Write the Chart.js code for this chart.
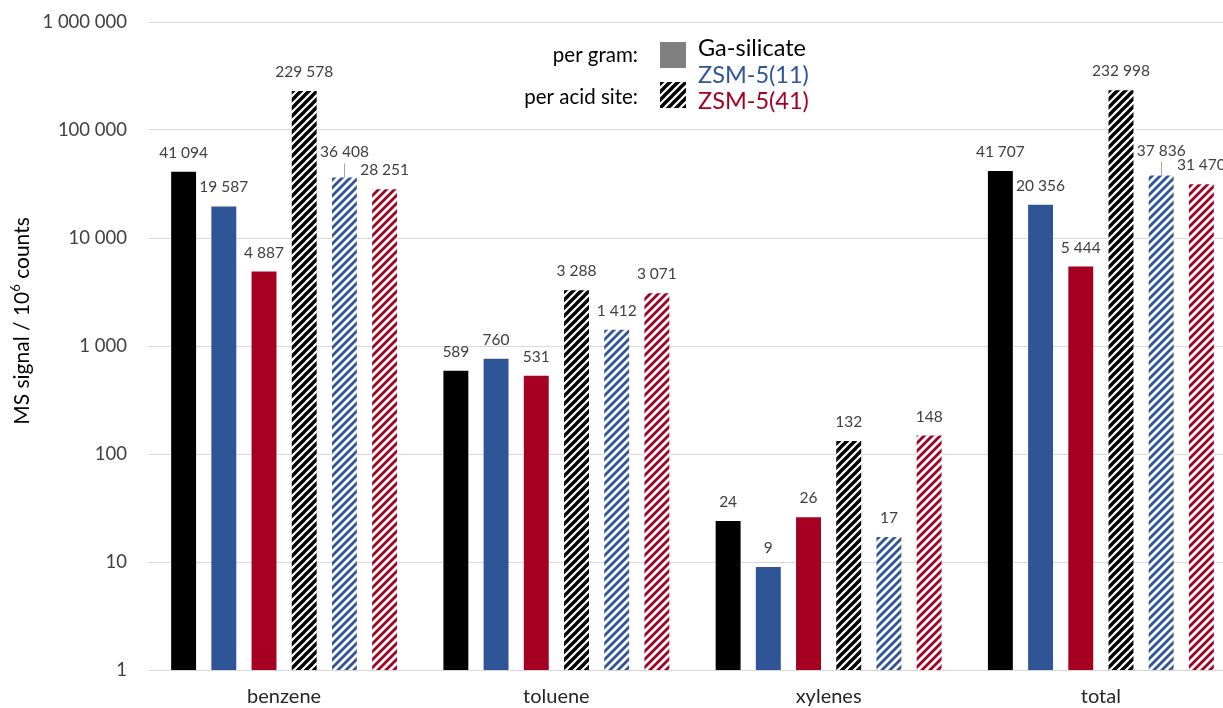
<!DOCTYPE html>
<html>
<head>
<meta charset="utf-8">
<title>Aromatics MS signal</title>
<script src="https://cdn.jsdelivr.net/npm/chart.js@4/dist/chart.umd.min.js"></script>
<style>
  html, body { margin: 0; padding: 0; background: #fff; overflow: hidden; }
  #wrap { width: 1240px; height: 708px; position: relative; }
</style>
</head>
<body>
<div id="wrap"><canvas id="chart"></canvas></div>
<script>
// Products and MS signal values (10^6 counts)
const categories = ['benzene', 'toluene', 'xylenes', 'total'];
const gaPerGram    = [41094, 589, 24, 41707];
const zsm11PerGram = [19587, 760, 9, 20356];
const zsm41PerGram = [4887, 531, 26, 5444];
const gaPerSite    = [229578, 3288, 132, 232998];
const zsm11PerSite = [36408, 1412, 17, 37836];
const zsm41PerSite = [28251, 3071, 148, 31470];
const yTicks = [1, 10, 100, 1000, 10000, 100000, 1000000];

const BLACK = '#000000';
const BLUE = '#2F5597';
const RED = '#A50021';
const TEXT = '#404040';
const FONT = 'Lato, "Open Sans", sans-serif';

function fmt(v) {
  return String(v).replace(/\B(?=(\d{3})+(?!\d))/g, ' ');
}

// diagonal "/" stripes
function hatch(color, width) {
  const size = 8;
  const c = document.createElement('canvas');
  c.width = size; c.height = size;
  const g = c.getContext('2d');
  g.fillStyle = '#fff';
  g.fillRect(0, 0, size, size);
  g.strokeStyle = color;
  g.lineWidth = width;
  g.lineCap = 'square';
  for (let k = -size; k <= size * 2; k += size) {
    g.beginPath();
    g.moveTo(k - size, size);
    g.lineTo(k, 0);
    g.stroke();
  }
  return g.createPattern(c, 'repeat');
}

const datasets = [
  { label: 'Ga-silicate per gram', data: gaPerGram, backgroundColor: BLACK },
  { label: 'ZSM-5(11) per gram', data: zsm11PerGram, backgroundColor: BLUE },
  { label: 'ZSM-5(41) per gram', data: zsm41PerGram, backgroundColor: RED },
  { label: 'Ga-silicate per acid site', data: gaPerSite, backgroundColor: hatch(BLACK, 3.4) },
  { label: 'ZSM-5(11) per acid site', data: zsm11PerSite, backgroundColor: hatch(BLUE, 2.8), leader: [0, 3] },
  { label: 'ZSM-5(41) per acid site', data: zsm41PerSite, backgroundColor: hatch(RED, 2.8) }
];

// value labels above each bar
const valueLabels = {
  id: 'valueLabels',
  afterDatasetsDraw(chart) {
    const ctx = chart.ctx;
    ctx.save();
    ctx.font = '15.5px ' + FONT;
    ctx.fillStyle = TEXT;
    ctx.textAlign = 'center';
    ctx.textBaseline = 'middle';
    chart.data.datasets.forEach((ds, di) => {
      const meta = chart.getDatasetMeta(di);
      meta.data.forEach((bar, i) => {
        const lifted = ds.leader && ds.leader.includes(i);
        const y = bar.y - 19 - (lifted ? 6 : 0);
        ctx.fillText(fmt(ds.data[i]), bar.x, y);
        if (lifted) {
          ctx.strokeStyle = '#A6A6A6';
          ctx.lineWidth = 1;
          ctx.beginPath();
          ctx.moveTo(Math.round(bar.x) + 0.5, y + 11);
          ctx.lineTo(Math.round(bar.x) + 0.5, bar.y);
          ctx.stroke();
        }
      });
    });
    ctx.restore();
  }
};

// axis title and the two-row legend
const decorations = {
  id: 'decorations',
  afterDraw(chart) {
    const ctx = chart.ctx;
    ctx.save();

    // y axis title with superscript exponent
    ctx.translate(22, 321);
    ctx.rotate(-Math.PI / 2);
    ctx.fillStyle = '#000';
    ctx.textBaseline = 'middle';
    const big = '21px ' + FONT;
    const small = '13px ' + FONT;
    const parts = [['MS signal / 10', big, 0], ['6', small, -6], [' counts', big, 0]];
    let total = 0;
    parts.forEach(p => { ctx.font = p[1]; total += ctx.measureText(p[0]).width; });
    let x = -total / 2;
    ctx.textAlign = 'left';
    parts.forEach(p => {
      ctx.font = p[1];
      ctx.fillText(p[0], x, p[2]);
      x += ctx.measureText(p[0]).width;
    });
    ctx.setTransform(1, 0, 0, 1, 0, 0);

    // legend
    ctx.font = '20.5px ' + FONT;
    ctx.fillStyle = '#000';
    ctx.textAlign = 'right';
    ctx.textBaseline = 'middle';
    ctx.fillText('per gram:', 638, 55);
    ctx.fillText('per acid site:', 638, 97);
    ctx.fillStyle = '#808080';
    ctx.fillRect(660, 42, 26, 26);
    ctx.fillStyle = hatch(BLACK, 3.4);
    ctx.fillRect(660, 82, 26, 26);
    ctx.textAlign = 'left';
    ctx.font = '23.5px ' + FONT;
    ctx.fillStyle = '#000';
    ctx.fillText('Ga-silicate', 698, 48);
    ctx.fillStyle = BLUE;
    ctx.fillText('ZSM-5(11)', 698, 75);
    ctx.fillStyle = RED;
    ctx.fillText('ZSM-5(41)', 698, 101);
    ctx.restore();
  }
};

new Chart(document.getElementById('chart'), {
  type: 'bar',
  data: { labels: categories, datasets: datasets },
  plugins: [valueLabels, decorations],
  options: {
    responsive: true,
    maintainAspectRatio: false,
    animation: false,
    layout: { padding: { top: 22, right: 3, left: 0, bottom: 0 } },
    datasets: { bar: { categoryPercentage: 0.886, barPercentage: 0.62 } },
    plugins: { legend: { display: false }, tooltip: { enabled: false } },
    scales: {
      x: {
        offset: true,
        grid: { display: false, drawTicks: false },
        border: { display: false },
        ticks: { color: '#262626', font: { family: FONT, size: 20 }, padding: 15 },
        afterFit(s) { s.height = 38; }
      },
      y: {
        type: 'logarithmic',
        min: 1,
        max: 1000000,
        afterBuildTicks(s) { s.ticks = yTicks.map(v => ({ value: v })); },
        grid: { color: '#D9D9D9', lineWidth: 1, drawTicks: false },
        border: { display: false },
        ticks: {
          color: TEXT,
          font: { family: FONT, size: 18.5 },
          padding: 21,
          autoSkip: false,
          callback: v => fmt(v)
        },
        afterFit(s) { s.width = 148; s.paddingTop = 0; s.paddingBottom = 0; }
      }
    }
  }
});
</script>
</body>
</html>
